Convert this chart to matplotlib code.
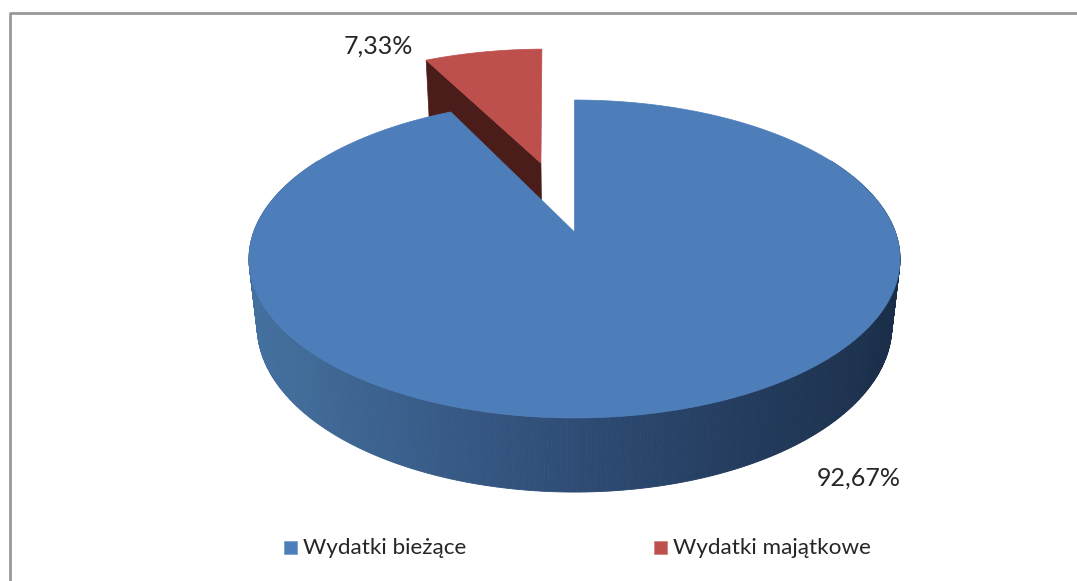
import numpy as np
import matplotlib
matplotlib.use('Agg')
import matplotlib.pyplot as plt
from matplotlib.patches import Polygon, Rectangle
from matplotlib.colors import LinearSegmentedColormap

plt.rcParams['font.family'] = ['Lato', 'DejaVu Sans']

# chart data
categories = ['Wydatki bieżące', 'Wydatki majątkowe']
values = [92.67, 7.33]
value_labels = ['92,67%', '7,33%']

# colours
blue = '#4e7eba'
red = '#bd4f4c'
red_wall = '#4a1d1a'
text_col = '#262626'


def project(u, v, z=0.0):
    # perspective view of the tilted pie, result in pixel coordinates
    d = 1 + 0.1698 * v + 0.025 * z
    return 574.5 + 320.8 * u / d, 232 + (-154.4 * v + 68 * z) / d


def on_circle(deg):
    # angle clockwise from 12 o'clock
    r = np.radians(deg)
    return np.sin(r), np.cos(r)


fig = plt.figure(figsize=(10.77, 5.81), dpi=100)
ax = fig.add_axes([0, 0, 1, 1])
ax.set_xlim(0, 1077)
ax.set_ylim(581, 0)
ax.axis('off')

# outer frame of the chart, cut off on the right and at the bottom
ax.plot([9.5, 9.5, 1077], [581, 12.5, 12.5], color='#999999', lw=2)

blue_sweep = values[0] / sum(values) * 360

# side of the blue slice, only the part that faces the viewer
shade = LinearSegmentedColormap.from_list('side', ['#44709f', '#2e4c75', '#1a2e49'])
angles = np.arange(60, 300.5, 0.5)
for a0, a1 in zip(angles[:-1], angles[1:]):
    u0, v0 = on_circle(a0)
    u1, v1 = on_circle(a1)
    quad = [project(u0, v0), project(u1, v1), project(u1, v1, 1), project(u0, v0, 1)]
    x_mid = project(u0, v0)[0]
    c = shade((x_mid - 250) / 651)
    ax.add_patch(Polygon(quad, closed=True, fc=c, ec=c, lw=0.6, zorder=2))

# exploded red slice, moved along its middle direction
mid = blue_sweep + values[1] / sum(values) * 180
off_u, off_v = on_circle(mid)
off_u, off_v = off_u * 0.496, off_v * 0.496
red_angles = np.linspace(blue_sweep, 360, 40) - 0.8
ru, rv = on_circle(red_angles)
ru = ru + off_u
rv = rv + off_v

# cut wall of the red slice
wall = [project(ru[0], rv[0]), project(off_u, off_v), project(off_u, off_v, 1), project(ru[0], rv[0], 1)]
ax.add_patch(Polygon(wall, closed=True, fc=red_wall, ec=red_wall, lw=0.5, zorder=1))
red_top = [project(off_u, off_v)] + [project(a, b) for a, b in zip(ru, rv)]
ax.add_patch(Polygon(red_top, closed=True, fc=red, ec=red, lw=0.5, zorder=1.5))

# top of the blue slice
blue_angles = np.linspace(0, blue_sweep, 500)
bu, bv = on_circle(blue_angles)
blue_top = [project(0, 0)] + [project(a, b) for a, b in zip(bu, bv)]
ax.add_patch(Polygon(blue_top, closed=True, fc=blue, ec=blue, lw=0.5, zorder=3))

# data labels
ax.text(859, 478, value_labels[0], ha='center', va='center', fontsize=18, color=text_col)
ax.text(378.5, 46, value_labels[1], ha='center', va='center', fontsize=18, color=text_col)

# legend
ax.add_patch(Rectangle((284, 541), 13, 13, fc=blue, ec='#7f9fc9', lw=0.6))
ax.text(303, 547.5, categories[0], ha='left', va='center', fontsize=16.2, color=text_col)
ax.add_patch(Rectangle((654, 541), 13, 13, fc=red, ec='#cf8583', lw=0.6))
ax.text(673, 547.5, categories[1], ha='left', va='center', fontsize=16.2, color=text_col)

fig.savefig('out.png', dpi=100)
